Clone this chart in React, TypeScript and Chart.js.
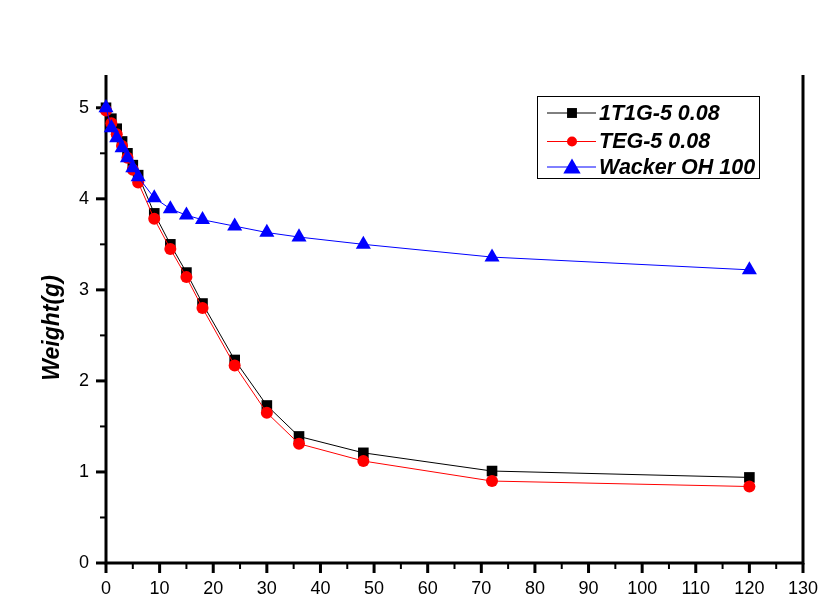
import React, { useEffect, useRef } from "react";
import { Chart, registerables } from "chart.js";

Chart.register(...registerables);

const timeH = [0, 1, 2, 3, 4, 5, 6, 9, 12, 15, 18, 24, 30, 36, 48, 72, 120];
const t1t1g = [5.0, 4.88, 4.77, 4.63, 4.5, 4.37, 4.26, 3.84, 3.5, 3.19, 2.85, 2.23, 1.73, 1.39, 1.21, 1.01, 0.94];
const teg = [4.97, 4.83, 4.71, 4.58, 4.45, 4.32, 4.18, 3.78, 3.45, 3.14, 2.8, 2.17, 1.65, 1.31, 1.12, 0.9, 0.84];
const wacker = [5.0, 4.78, 4.67, 4.56, 4.45, 4.34, 4.24, 4.01, 3.89, 3.82, 3.77, 3.7, 3.63, 3.58, 3.5, 3.36, 3.22];
const seriesLabels = ["1T1G-5 0.08", "TEG-5 0.08", "Wacker OH 100"];
const xTicks = [0, 10, 20, 30, 40, 50, 60, 70, 80, 90, 100, 110, 120, 130];
const yTicks = [0, 1, 2, 3, 4, 5];
const yTitle = "Weight(g)";

const FONT = "'Liberation Sans', Arial, sans-serif";

function drawMarker(ctx: CanvasRenderingContext2D, style: string, x: number, y: number, r: number, color: string) {
  ctx.save();
  ctx.fillStyle = color;
  ctx.beginPath();
  if (style === "rect") {
    const s = r / Math.SQRT2;
    ctx.rect(x - s, y - s, 2 * s, 2 * s);
  } else if (style === "circle") {
    ctx.arc(x, y, r, 0, Math.PI * 2);
  } else {
    ctx.moveTo(x, y - r);
    ctx.lineTo(x + r * Math.sin((2 * Math.PI) / 3), y - r * Math.cos((2 * Math.PI) / 3));
    ctx.lineTo(x + r * Math.sin((4 * Math.PI) / 3), y - r * Math.cos((4 * Math.PI) / 3));
    ctx.closePath();
  }
  ctx.fill();
  ctx.restore();
}

const axesPlugin = {
  id: "axesPlugin",
  beforeDatasetsDraw(chart: any) {
    const { ctx, chartArea } = chart;
    const xs = chart.scales.x;
    const ys = chart.scales.y;
    const { left, right, top, bottom } = chartArea;
    ctx.save();
    ctx.strokeStyle = "#000";
    ctx.lineWidth = 3;
    ctx.beginPath();
    ctx.moveTo(left, top);
    ctx.lineTo(left, bottom + 1.5);
    ctx.moveTo(left - 1.5, bottom);
    ctx.lineTo(right + 1.5, bottom);
    ctx.moveTo(right, bottom + 1.5);
    ctx.lineTo(right, top);
    ctx.stroke();
    for (let v = 0; v <= 130; v += 5) {
      const px = xs.getPixelForValue(v);
      const major = v % 10 === 0;
      ctx.lineWidth = major ? 3 : 2;
      ctx.beginPath();
      ctx.moveTo(px, bottom);
      ctx.lineTo(px, bottom + (major ? 10 : 6));
      ctx.stroke();
    }
    for (let v = 0; v <= 5.0001; v += 0.5) {
      const py = ys.getPixelForValue(v);
      const major = Math.abs(v - Math.round(v)) < 1e-6;
      ctx.lineWidth = major ? 3 : 2;
      ctx.beginPath();
      ctx.moveTo(left, py);
      ctx.lineTo(left - (major ? 10 : 6), py);
      ctx.stroke();
    }
    ctx.restore();
  },
  afterDraw(chart: any) {
    const { ctx } = chart;
    ctx.save();
    ctx.translate(53, 328);
    ctx.rotate(-Math.PI / 2);
    ctx.fillStyle = "#000";
    ctx.font = `italic bold 23px ${FONT}`;
    ctx.textAlign = "center";
    ctx.textBaseline = "middle";
    ctx.fillText(yTitle, 0, 0);
    ctx.restore();

    ctx.save();
    ctx.strokeStyle = "#000";
    ctx.lineWidth = 1;
    ctx.strokeRect(537.5, 96.5, 222, 82);
    const rows = [113, 141.5, 167];
    const styles = ["rect", "circle", "triangle"];
    const colors = ["#000000", "#ff0000", "#0000ff"];
    const sizes = [7, 5, 10];
    chart.data.datasets.forEach((ds: any, i: number) => {
      const y = rows[i];
      ctx.strokeStyle = colors[i];
      ctx.lineWidth = 1;
      ctx.beginPath();
      ctx.moveTo(547, y);
      ctx.lineTo(596, y);
      ctx.stroke();
      drawMarker(ctx, styles[i], 572, i === 2 ? y + 1.5 : y, sizes[i], colors[i]);
      ctx.fillStyle = "#000";
      ctx.font = `italic bold 21.5px ${FONT}`;
      ctx.textAlign = "left";
      ctx.textBaseline = "middle";
      ctx.fillText(ds.label, 599, y + 1);
    });
    ctx.restore();
  },
};

export default function App() {
  const ref = useRef<HTMLCanvasElement | null>(null);
  useEffect(() => {
    document.body.style.margin = "0";
    if (!ref.current) return;
    const mk = (ys: number[]) => timeH.map((x, i) => ({ x, y: ys[i] }));
    const chart = new Chart(ref.current, {
      type: "line",
      data: {
        datasets: [
          {
            label: seriesLabels[0],
            data: mk(t1t1g),
            borderColor: "#000000",
            backgroundColor: "#000000",
            borderWidth: 1,
            pointStyle: "rect",
            pointRadius: 7.5,
            pointBorderWidth: 0,
            clip: false,
            order: 3,
          },
          {
            label: seriesLabels[1],
            data: mk(teg),
            borderColor: "#ff0000",
            backgroundColor: "#ff0000",
            borderWidth: 1,
            pointStyle: "circle",
            pointRadius: 6,
            pointBorderWidth: 0,
            clip: false,
            order: 2,
          },
          {
            label: seriesLabels[2],
            data: mk(wacker),
            borderColor: "#0000ff",
            backgroundColor: "#0000ff",
            borderWidth: 1,
            pointStyle: "triangle",
            pointRadius: 8.7,
            pointBorderWidth: 0,
            clip: false,
            order: 1,
          },
        ],
      },
      options: {
        responsive: false,
        animation: false,
        layout: { padding: { left: 0, top: 75, right: 34, bottom: 0 } },
        plugins: { legend: { display: false }, tooltip: { enabled: false } },
        scales: {
          x: {
            type: "linear",
            min: 0,
            max: 130,
            afterBuildTicks: (s: any) => {
              s.ticks = xTicks.map((v) => ({ value: v }));
            },
            afterFit: (s: any) => {
              s.height = 45;
            },
            grid: { display: false, drawTicks: false },
            border: { display: false },
            ticks: {
              padding: 15,
              color: "#000",
              font: { family: FONT, size: 18 },
              maxRotation: 0,
              autoSkip: false,
            },
          },
          y: {
            type: "linear",
            min: 0,
            max: 5.36,
            afterBuildTicks: (s: any) => {
              s.ticks = yTicks.map((v) => ({ value: v }));
            },
            afterFit: (s: any) => {
              s.width = 106;
            },
            grid: { display: false, drawTicks: false },
            border: { display: false },
            ticks: {
              padding: 17,
              color: "#000",
              font: { family: FONT, size: 18 },
            },
          },
        },
      },
      plugins: [axesPlugin],
    });
    return () => chart.destroy();
  }, []);
  return <canvas ref={ref} width={837} height={608} style={{ display: "block" }} />;
}
